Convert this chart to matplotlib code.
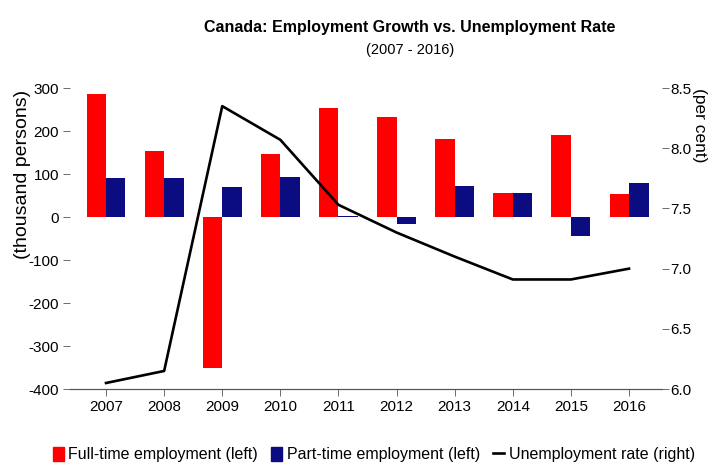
import numpy as np
import matplotlib.pyplot as plt
from matplotlib.patches import Patch
from matplotlib.lines import Line2D

plt.rcParams['font.family'] = ['Liberation Sans', 'DejaVu Sans']
plt.rcParams['axes.unicode_minus'] = False

# Annual figures, 2007-2016
years = ['2007', '2008', '2009', '2010', '2011', '2012', '2013', '2014', '2015', '2016']
full_time = [286, 153, -352, 146, 254, 233, 181, 55, 191, 53]      # thousand persons
part_time = [90, 90, 70, 94, 2, -16, 73, 55, -43, 80]              # thousand persons
unemployment = [6.05, 6.15, 8.35, 8.07, 7.53, 7.30, 7.10, 6.91, 6.91, 7.00]  # per cent

red = '#ff0000'
navy = '#0b0b82'

fig = plt.figure(figsize=(7.12, 4.66), dpi=100)
ax = fig.add_axes([0.0983, 0.1652, 0.8317, 0.6458])
ax2 = ax.twinx()

x = np.arange(len(years))
w = 0.335
ax.bar(x - w / 2, full_time, w, color=red, zorder=2)
ax.bar(x + w / 2, part_time, w, color=navy, zorder=2)

ax.set_ylim(-400, 300)
ax.set_yticks(range(-400, 301, 100))
ax.set_xlim(-0.62, 9.57)
ax.set_xticks(x)
ax.set_xticklabels(years)

ax2.plot(x, unemployment, color='black', lw=1.9, zorder=3)
ax2.set_ylim(6.0, 8.5)
ax2.set_yticks(np.arange(6.0, 8.51, 0.5))
ax2.set_yticklabels(['%.1f' % v for v in np.arange(6.0, 8.51, 0.5)])

# only the bottom line is drawn, ticks stay on the sides
for a in (ax, ax2):
    for s in ('top', 'left', 'right'):
        a.spines[s].set_visible(False)
    a.spines['bottom'].set_color('#555555')
    a.spines['bottom'].set_linewidth(0.8)
    a.tick_params(labelsize=11, length=5, width=0.6, color='#555555', pad=3)
ax2.tick_params(axis='y', pad=1)

# axis titles sit against the top of the plot area
fig.text(0.031, 0.808, '(thousand persons)', rotation=90, ha='center', va='top', fontsize=14)
fig.text(0.983, 0.811, '(per cent)', rotation=270, ha='center', va='top', fontsize=12.5)

fig.text(0.576, 0.94, 'Canada: Employment Growth vs. Unemployment Rate',
         ha='center', va='center', fontsize=11.5, fontweight='bold')
fig.text(0.576, 0.893, '(2007 - 2016)', ha='center', va='center', fontsize=10.5)

handles = [Patch(color=red), Patch(color=navy), Line2D([], [], color='black', lw=1.9)]
labels = ['Full-time employment (left)', 'Part-time employment (left)', 'Unemployment rate (right)']
fig.legend(handles, labels, loc='center', bbox_to_anchor=(0.525, 0.025), ncol=3,
           frameon=False, fontsize=11.5, handlelength=0.7, handleheight=1.0,
           handletextpad=0.3, columnspacing=0.8)

fig.savefig('out.png', dpi=100, facecolor='white')
